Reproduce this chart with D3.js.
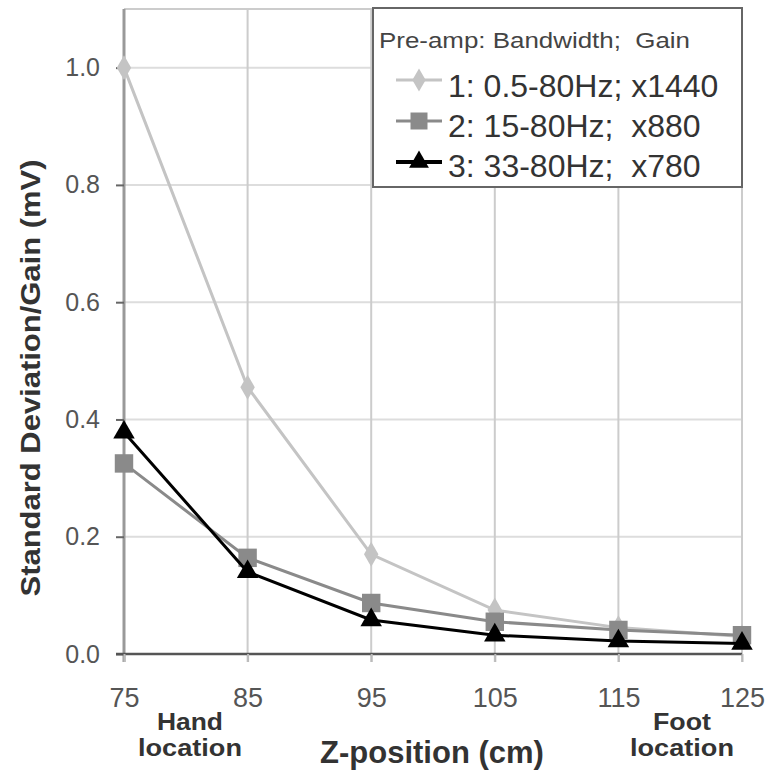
<!DOCTYPE html>
<html><head><meta charset="utf-8">
<script src="https://cdn.jsdelivr.net/npm/d3@7"></script>
<style>body{margin:0;background:#fff;}svg{display:block;font-family:Arial,"Liberation Sans",sans-serif;}</style>
</head><body><svg id="c" width="768" height="772"></svg>
<script>
const zPositions = [75, 85, 95, 105, 115, 125];
const series1 = [1.0, 0.455, 0.17, 0.075, 0.045, 0.03];
const series2 = [0.325, 0.164, 0.087, 0.055, 0.041, 0.032];
const series3 = [0.378, 0.14, 0.058, 0.032, 0.022, 0.018];
const yTicks = [0.0, 0.2, 0.4, 0.6, 0.8, 1.0];
const seriesNames = ["1: 0.5-80Hz; x1440", "2: 15-80Hz;  x880", "3: 33-80Hz;  x780"];
const legendTitle = "Pre-amp: Bandwidth;  Gain";
const locationLabels = [["Hand", "location"], ["Foot", "location"]];

const svg = d3.select("#c");
const L = 124, R = 742, T = 9, B = 654;
const x = d3.scaleLinear().domain([75, 125]).range([L, R]);
const y = d3.scaleLinear().domain([0, 1.1]).range([B, T]);

// grid
const g = svg.append("g");
g.selectAll(".hg").data(yTicks.slice(1)).join("line")
  .attr("x1", L).attr("x2", R).attr("y1", d => y(d)).attr("y2", d => y(d))
  .attr("stroke", "#ddd").attr("stroke-width", 2);
g.append("line").attr("x1", L).attr("x2", R).attr("y1", T).attr("y2", T).attr("stroke", "#ccc").attr("stroke-width", 2);
g.selectAll(".vg").data(zPositions.slice(1)).join("line")
  .attr("x1", d => x(d)).attr("x2", d => x(d)).attr("y1", T).attr("y2", B + 8)
  .attr("stroke", "#ccc").attr("stroke-width", 2);

// axes
const yAxis = d3.axisLeft(y).tickValues(yTicks).tickFormat(d3.format(".1f")).tickSize(8).tickPadding(16);
const ya = svg.append("g").attr("transform", `translate(${L},0)`).call(yAxis);
ya.select(".domain").attr("stroke", "#999").attr("stroke-width", 3).attr("d", `M0,${T}V${B+8}`);
ya.selectAll(".tick line").attr("stroke", "#666").attr("stroke-width", 2);
ya.selectAll(".tick text").attr("font-size", 25).attr("fill", "#555").attr("font-family", "Arial, Liberation Sans, sans-serif");

const xAxis = d3.axisBottom(x).tickValues(zPositions).tickSize(8).tickPadding(26);
const xa = svg.append("g").attr("transform", `translate(0,${B})`).call(xAxis);
xa.select(".domain").attr("stroke", "#555").attr("stroke-width", 2.5).attr("d", `M${L-8},0H${R}`);
xa.selectAll(".tick line").attr("stroke", "#bbb").attr("stroke-width", 2);
xa.selectAll(".tick text").attr("font-size", 27).attr("fill", "#555").attr("font-family", "Arial, Liberation Sans, sans-serif");

// series
const styles = [
  {data: series1, color: "#c4c4c4", shape: d3.symbolDiamond, size: 180},
  {data: series2, color: "#8a8a8a", shape: d3.symbolSquare, size: 340},
  {data: series3, color: "#000", shape: d3.symbolTriangle, size: 200}
];
const line = d3.line().x((d, i) => x(zPositions[i])).y(d => y(d));
styles.forEach(s => {
  svg.append("path").attr("d", line(s.data)).attr("fill", "none").attr("stroke", s.color).attr("stroke-width", 3);
  svg.selectAll(null).data(s.data).join("path")
    .attr("transform", (d, i) => `translate(${x(zPositions[i])},${y(d)})`)
    .attr("d", d3.symbol().type(s.shape).size(s.size)).attr("fill", s.color);
});

// legend
const lg = svg.append("g");
lg.append("rect").attr("x", 373).attr("y", 8).attr("width", 369).attr("height", 179)
  .attr("fill", "#fff").attr("stroke", "#666").attr("stroke-width", 2);
lg.append("text").attr("x", 379).attr("y", 48).attr("font-size", 22).attr("fill", "#444")
  .style("white-space", "pre").attr("textLength", 311).attr("lengthAdjust", "spacingAndGlyphs").text(legendTitle);
styles.forEach((s, i) => {
  const yy = 80 + i * 41;
  const by = 97 + i * 40;
  lg.append("line").attr("x1", 396).attr("x2", 442).attr("y1", yy).attr("y2", yy).attr("stroke", s.color).attr("stroke-width", i === 2 ? 4 : 3);
  lg.append("path").attr("transform", `translate(419,${yy})`).attr("d", d3.symbol().type(s.shape).size(s.size * 0.85)).attr("fill", s.color);
  lg.append("text").attr("x", 448).attr("y", by).attr("font-size", 32).attr("fill", "#333").style("white-space", "pre").text(seriesNames[i]);
});

// titles
svg.append("text").attr("transform", "translate(40,378) rotate(-90)").attr("text-anchor", "middle")
  .attr("font-size", 28).attr("font-weight", "bold").attr("fill", "#333")
  .attr("textLength", 437).attr("lengthAdjust", "spacingAndGlyphs").text("Standard Deviation/Gain (mV)");
svg.append("text").attr("x", 432).attr("y", 763).attr("text-anchor", "middle")
  .attr("font-size", 31).attr("font-weight", "bold").attr("fill", "#333").text("Z-position (cm)");
const locX = [190, 682], topLen = [66, 58];
locationLabels.forEach(([a, b], i) => {
  svg.append("text").attr("x", locX[i]).attr("y", 730).attr("text-anchor", "middle").attr("font-size", 24).attr("font-weight", "bold").attr("fill", "#333")
    .attr("textLength", topLen[i]).attr("lengthAdjust", "spacingAndGlyphs").text(a);
  svg.append("text").attr("x", locX[i]).attr("y", 756).attr("text-anchor", "middle").attr("font-size", 24).attr("font-weight", "bold").attr("fill", "#333")
    .attr("textLength", 104).attr("lengthAdjust", "spacingAndGlyphs").text(b);
});
</script></body></html>
